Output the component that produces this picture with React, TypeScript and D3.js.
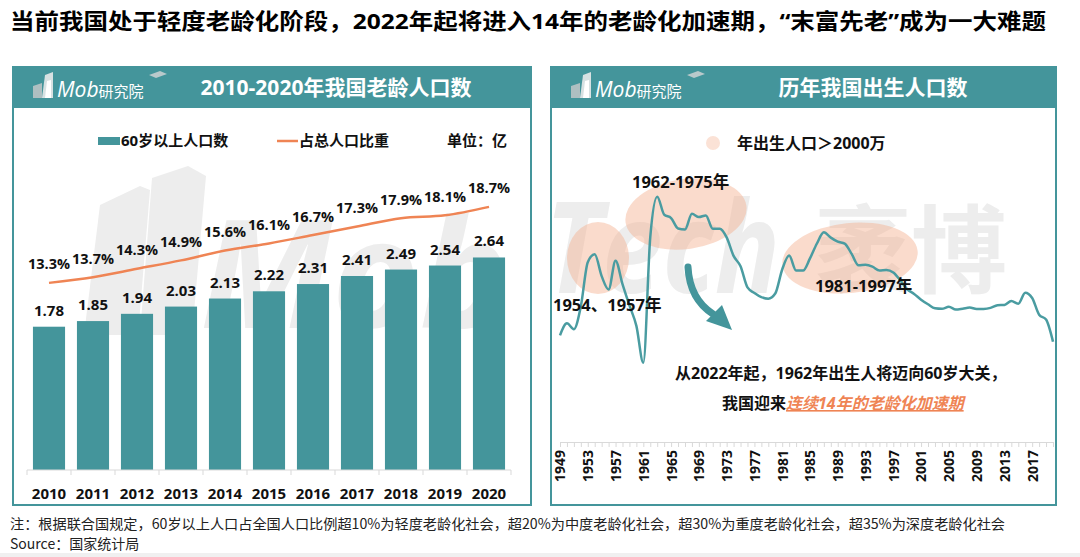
import React, { useEffect, useRef } from 'react';
import * as d3 from 'd3';

// 左图：2010-2020年我国老龄人口数
const years = ['2010', '2011', '2012', '2013', '2014', '2015', '2016', '2017', '2018', '2019', '2020'];
const elderly = [1.78, 1.85, 1.94, 2.03, 2.13, 2.22, 2.31, 2.41, 2.49, 2.54, 2.64];
const elderlyShare = [13.3, 13.7, 14.3, 14.9, 15.6, 16.1, 16.7, 17.3, 17.9, 18.1, 18.7];

// 右图：历年我国出生人口（万人）
const birthYears = d3.range(1949, 2021);
const births = [
  1275,
  1419, 1349, 1622, 2151, 2245, 1984, 1825, 2169, 1889, 1635,
  1389, 949, 2451, 2934, 2721, 2679, 2554, 2543, 2731, 2690,
  2710, 2551, 2550, 2447, 2226, 2102, 1849, 1783, 1733, 1715,
  1776, 2064, 2230, 2052, 2050, 2196, 2374, 2508, 2445, 2396,
  2374, 2250, 2113, 2120, 2098, 2052, 2057, 2028, 1934, 1827,
  1771, 1702, 1647, 1599, 1593, 1617, 1585, 1595, 1608, 1591,
  1592, 1604, 1635, 1640, 1687, 1655, 1786, 1723, 1523, 1465, 1200,
];
const birthTickLabels = [1949, 1953, 1957, 1961, 1965, 1969, 1973, 1977, 1981, 1985, 1989, 1993, 1997, 2001, 2005, 2009, 2013, 2017];

const TEAL = '#44959b';
const LINE_TEAL = '#4a9ca1';
const ORANGE = '#ef8454';
const AXIS_GRAY = '#d9d9d9';
const CJK = '"Noto Sans CJK SC", sans-serif';
const NUM = '"Open Sans", "Noto Sans CJK SC", sans-serif';

function Logo({ x }: { x: number }) {
  return (
    <g transform={`translate(${x},0)`}>
      <path d="M21,98 L21,86 L30,83 L30,98 Z" fill="#aebfc1" />
      <path d="M30,98 L33,75 L41,72 L41,98 Z" fill="#d7e1e2" />
      <path d="M33,98 L35,81 L39,80 L39,98 Z" fill="#ffffff" />
      <path d="M137,75 L148,71 L155,74 L144,78 Z" fill="#b9c9cb" />
      <text x={45} y={97} fill="#fff" fontFamily={NUM}>
        <tspan fontSize={21} fontStyle="italic">Mob</tspan>
        <tspan fontSize={15} fontFamily={CJK}>研究院</tspan>
      </text>
    </g>
  );
}

function Panel({ x, width, title, titleX }: { x: number; width: number; title: string; titleX: number }) {
  return (
    <g>
      <rect x={x} y={67} width={width} height={438} fill="#fff" stroke={TEAL} strokeWidth={2} />
      <rect x={x} y={67} width={width} height={41} fill={TEAL} />
      <Logo x={x - 1} />
      <text x={titleX} y={95} textAnchor="middle" fill="#fff" fontSize={21} fontWeight={700} fontFamily={NUM}>
        {title}
      </text>
    </g>
  );
}

function Watermark() {
  return (
    <g fill="#ededed">
      <path d="M84,335 L100,205 L140,186 L150,190 L138,335 Z" />
      <path d="M140,335 L152,178 L188,166 L206,176 L192,335 Z" />
      <text x={200} y={328} fontSize={150} fontWeight={700} fontStyle="italic" fontFamily={NUM}>Mob</text>
      <text x={545} y={293} fontSize={128} fontWeight={700} fontStyle="italic" fontFamily={NUM} textLength={235} lengthAdjust="spacingAndGlyphs">Tech</text>
      <text x={815} y={285} fontSize={96} fontWeight={700} fontFamily={CJK}>袤博</text>
    </g>
  );
}

function BandAxis({ scale, y }: { scale: d3.ScaleBand<string>; y: number }) {
  const ref = useRef<SVGGElement>(null);
  useEffect(() => {
    if (ref.current) {
      const g = d3.select(ref.current).call(d3.axisBottom(scale).tickSize(0).tickPadding(18));
      g.select('.domain').remove();
      g.selectAll('text')
        .attr('font-size', 15)
        .attr('font-weight', 700)
        .attr('font-family', NUM)
        .attr('fill', '#111');
    }
  }, [scale]);
  return <g ref={ref} transform={`translate(0,${y})`} />;
}

function YearAxis({ scale, y }: { scale: d3.ScaleLinear<number, number>; y: number }) {
  const ref = useRef<SVGGElement>(null);
  useEffect(() => {
    if (ref.current) {
      const g = d3.select(ref.current).call(
        d3.axisBottom(scale)
          .tickValues(birthYears)
          .tickSize(5)
          .tickSizeOuter(0)
          .tickFormat((d) => (birthTickLabels.includes(+d) ? String(d) : ''))
      );
      g.select('.domain').attr('stroke', AXIS_GRAY);
      g.selectAll('.tick line').attr('stroke', AXIS_GRAY);
      g.selectAll('text')
        .attr('transform', 'rotate(-90)')
        .attr('x', -8)
        .attr('y', 0)
        .attr('dy', '0.35em')
        .attr('text-anchor', 'end')
        .attr('font-size', 14)
        .attr('font-weight', 700)
        .attr('font-family', NUM)
        .attr('fill', '#111');
    }
  }, [scale]);
  return <g ref={ref} transform={`translate(0,${y})`} />;
}

function ElderlyChart() {
  const base = 470;
  const scaleX = d3.scaleBand<string>().domain(years).range([27, 511]).paddingInner(0.27).paddingOuter(0.135);
  const scaleY = d3.scaleLinear().domain([0, 3]).range([base, base - 241.5]);
  const scaleP = d3.scaleLinear().domain([0, 20]).range([base, base - 281.4]);
  const cx = (d: string) => (scaleX(d) ?? 0) + scaleX.bandwidth() / 2;
  const gap = scaleX.step() * 0.27;
  const boundaries = years.map((d) => (scaleX(d) ?? 0) - gap / 2).concat([(scaleX(years[years.length - 1]) ?? 0) + scaleX.bandwidth() + gap / 2]);

  const line = d3.line<number>()
    .x((_, i) => cx(years[i]))
    .y((d) => scaleP(d))
    .curve(d3.curveMonotoneX);

  return (
    <g>
      {/* legend */}
      <rect x={98} y={137} width={22} height={8} fill={TEAL} />
      <text x={121} y={146} fontSize={15} fontWeight={700} fontFamily={NUM} fill="#111">60岁以上人口数</text>
      <line x1={277} x2={298} y1={141} y2={141} stroke={ORANGE} strokeWidth={2.5} />
      <text x={299} y={146} fontSize={15} fontWeight={700} fontFamily={CJK} fill="#111">占总人口比重</text>
      <text x={447} y={146} fontSize={15} fontWeight={700} fontFamily={CJK} fill="#111">单位：亿</text>

      {elderly.map((v, i) => (
        <rect key={`bar-${years[i]}`} x={scaleX(years[i])} y={scaleY(v)} width={scaleX.bandwidth()} height={base - scaleY(v)} fill={TEAL} />
      ))}
      {elderly.map((v, i) => (
        <text key={`bl-${years[i]}`} x={cx(years[i])} y={scaleY(v) - 11} textAnchor="middle" fontSize={15} fontWeight={700} fontFamily={NUM} fill="#111">
          {v.toFixed(2)}
        </text>
      ))}

      <line x1={27} x2={511} y1={base} y2={base} stroke={AXIS_GRAY} />
      {boundaries.map((bx, i) => (
        <line key={`tk-${i}`} x1={bx} x2={bx} y1={base} y2={base + 5} stroke={AXIS_GRAY} />
      ))}
      <BandAxis scale={scaleX} y={base} />

      <path d={line(elderlyShare) ?? ''} fill="none" stroke={ORANGE} strokeWidth={2.5} />
      {elderlyShare.map((p, i) => (
        <text key={`pl-${years[i]}`} x={cx(years[i])} y={scaleP(p) - 13.5} textAnchor="middle" fontSize={14.5} fontWeight={700} fontFamily={NUM} fill="#111">
          {p.toFixed(1)}%
        </text>
      ))}
    </g>
  );
}

function BirthChart() {
  const base = 442;
  const scaleX = d3.scaleLinear().domain([1949, 2020]).range([560, 1053]);
  const scaleY = d3.scaleLinear().domain([0, 3500]).range([base, base - 292.6]);

  const line = d3.line<number>()
    .x((_, i) => scaleX(birthYears[i]))
    .y((d) => scaleY(d))
    .curve(d3.curveMonotoneX);

  const blush = '#f3b08f';

  return (
    <g>
      {/* legend */}
      <circle cx={713} cy={143} r={7} fill="#fbe2d6" />
      <text x={737} y={149} fontSize={16} fontWeight={700} fontFamily={NUM} fill="#111">年出生人口＞2000万</text>

      <ellipse cx={686} cy={214} rx={61} ry={35} transform="rotate(-8 686 214)" fill={blush} opacity={0.45} />
      <ellipse cx={598} cy={258} rx={31} ry={36} fill={blush} opacity={0.45} />
      <ellipse cx={850} cy={258} rx={68} ry={35} transform="rotate(-6 850 258)" fill={blush} opacity={0.45} />

      <YearAxis scale={scaleX} y={base} />
      <path d={line(births) ?? ''} fill="none" stroke={LINE_TEAL} strokeWidth={2.5} />

      <text x={632} y={188} fontSize={16.5} fontWeight={700} fontFamily={NUM} fill="#111">1962-1975年</text>
      <text x={553} y={311} fontSize={16.5} fontWeight={700} fontFamily={NUM} fill="#111">1954、1957年</text>
      <text x={815} y={292} fontSize={16.5} fontWeight={700} fontFamily={NUM} fill="#111">1981-1997年</text>

      {/* arrow */}
      <path d="M688,267 C689,287 696,303 713,314" fill="none" stroke={TEAL} strokeWidth={7} strokeLinecap="round" />
      <path d="M706,321 L722,305 L732,330 Z" fill={TEAL} />

      <text x={675} y={379} fontSize={16} fontWeight={700} fontFamily={NUM} fill="#111">从2022年起，1962年出生人将迈向60岁大关，</text>
      <text x={722} y={409} fontSize={16} fontWeight={700} fontFamily={NUM} fill="#111">
        我国迎来
        <tspan fill={ORANGE} fontStyle="italic" style={{ textDecoration: 'underline' }}>连续14年的老龄化加速期</tspan>
      </text>
    </g>
  );
}

export default function App() {
  return (
    <div style={{ position: 'absolute', left: 0, top: 0, width: 1080, height: 557, background: '#fff' }}>
      <svg width={1080} height={557} style={{ display: 'block' }}>
        <rect width={1080} height={557} fill="#fff" />
        <text x={10} y={29} fontSize={22} fontWeight={700} fontFamily={NUM} fill="#000" textLength={1036} lengthAdjust="spacingAndGlyphs">
          当前我国处于轻度老龄化阶段，2022年起将进入14年的老龄化加速期，“末富先老”成为一大难题
        </text>

        <Panel x={13} width={518} title="2010-2020年我国老龄人口数" titleX={336} />
        <Panel x={551} width={505} title="历年我国出生人口数" titleX={873} />

        <Watermark />
        <ElderlyChart />
        <BirthChart />

        <text x={10} y={529} fontSize={14} fontFamily={CJK} fill="#222" textLength={995} lengthAdjust="spacingAndGlyphs">
          注：根据联合国规定，60岁以上人口占全国人口比例超10%为轻度老龄化社会，超20%为中度老龄化社会，超30%为重度老龄化社会，超35%为深度老龄化社会
        </text>
        <text x={10} y={549} fontSize={14} fontFamily={CJK} fill="#222">Source：国家统计局</text>
        <rect x={0} y={553} width={1080} height={4} fill="#f0f0f0" />
      </svg>
    </div>
  );
}
